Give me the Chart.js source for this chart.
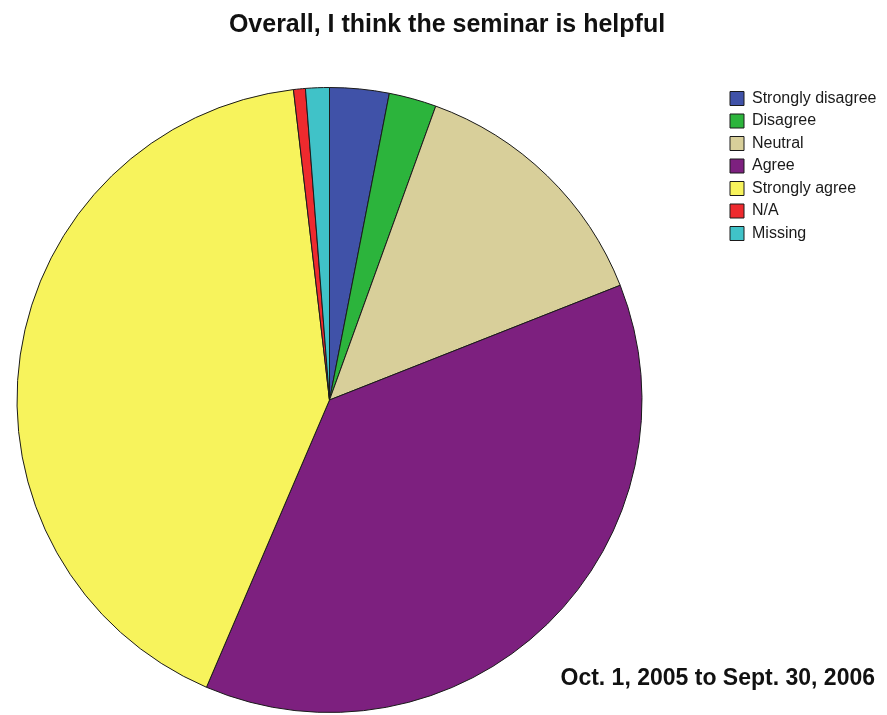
<!DOCTYPE html>
<html>
<head>
<meta charset="utf-8">
<script src="https://cdn.jsdelivr.net/npm/chart.js@4.4.1/dist/chart.umd.min.js"></script>
<style>
  html, body { margin:0; padding:0; background:#fff; }
  #wrap { width:887px; height:715px; }
</style>
</head>
<body>
<div id="wrap"><canvas id="pie"></canvas></div>
<script>
// survey answers (counts)
const answers = ['Strongly disagree','Disagree','Neutral','Agree','Strongly agree','N/A','Missing'];
const counts  = [5, 4, 22, 61, 68, 1, 2];
const sliceColors = ['#4052a8','#2cb43c','#d8cf9a','#7d207f','#f7f35c','#ee2a2e','#40c2c8'];
const titleText  = 'Overall, I think the seminar is helpful';
const periodText = 'Oct. 1, 2005 to Sept. 30, 2006';

// pie sits left, legend floats at the top right like the original
const placeBoxes = {
  id: 'placeBoxes',
  afterLayout(chart){
    const lg = chart.legend;
    if (lg){
      const w = lg.width, h = lg.height;
      lg.left = 723.5; lg.right = lg.left + w;
      lg.top = 84; lg.bottom = lg.top + h;
    }
    const a = chart.chartArea;
    a.left = 16; a.top = 87; a.right = 643; a.bottom = 713;
    a.width = 627; a.height = 626;
  }
};

const font = 'Liberation Sans, Arial, sans-serif';

new Chart(document.getElementById('pie').getContext('2d'), {
  type: 'pie',
  data: {
    labels: answers,
    datasets: [{ data: counts, backgroundColor: sliceColors, borderColor:'#1a1a1a', borderWidth:1 }]
  },
  options: {
    responsive:true, maintainAspectRatio:false, animation:false, events:[],
    layout: { padding:{ left:19, right:12, top:0, bottom:0 } },
    plugins: {
      title: { display:true, text:titleText, color:'#111',
        font:{ family:font, size:25, weight:'bold' }, padding:{ top:10, bottom:10 } },
      subtitle: { display:true, text:periodText, position:'bottom', align:'end', color:'#111',
        font:{ family:font, size:23, weight:'bold' }, padding:{ top:0, bottom:23 } },
      legend: { position:'right', align:'start',
        labels:{ boxWidth:14, boxHeight:14, padding:6.5, color:'#1a1a1a',
          font:{ family:font, size:16 } } },
      tooltip: { enabled:false }
    }
  },
  plugins: [placeBoxes]
});
</script>
</body>
</html>
